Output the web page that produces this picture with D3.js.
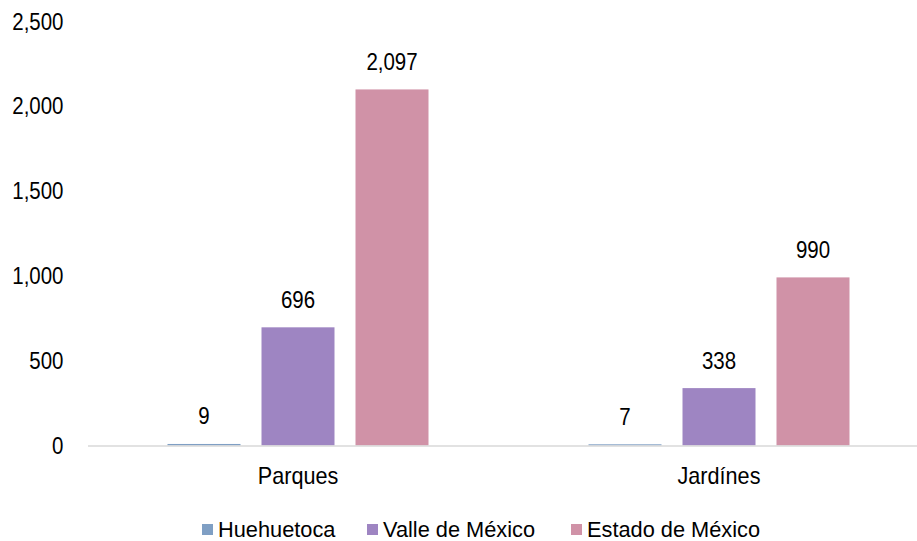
<!DOCTYPE html>
<html>
<head>
<meta charset="utf-8">
<script src="https://cdn.jsdelivr.net/npm/d3@7"></script>
<style>
  html, body { margin: 0; padding: 0; background: #fff; }
  svg text { font-family: "Liberation Sans", Arial, sans-serif; fill: #000; }
</style>
</head>
<body>
<svg id="chart" width="917" height="541"></svg>
<script>
// Áreas verdes: parques y jardines
const categories = ["Parques", "Jardínes"];
const seriesNames = ["Huehuetoca", "Valle de México", "Estado de México"];
const huehuetoca = [9, 7];
const valleDeMexico = [696, 338];
const estadoDeMexico = [2097, 990];
const yTicks = [0, 500, 1000, 1500, 2000, 2500];
const colors = ["#7f9fc4", "#9e85c2", "#d092a7"];

const seriesValues = [huehuetoca, valleDeMexico, estadoDeMexico];
const rows = categories.map((c, i) => ({
  category: c,
  values: seriesNames.map((s, j) => ({ series: s, value: seriesValues[j][i] }))
}));

const svg = d3.select("#chart");
const fmt = d3.format(",");
const NUM_SX = 0.89;   // slightly condensed numerals
const CAT_SX = 0.94;
const LEG_SX = 0.99;

const y = d3.scaleLinear().domain([0, 2500]).range([445.5, 21]);
const x0 = d3.scaleBand().domain(categories).range([87.5, 929.5]).padding(0);
const x1 = d3.scaleBand().domain(seriesNames)
  .range([80, 341]).paddingInner(21 / 94).paddingOuter(0);
const color = d3.scaleOrdinal().domain(seriesNames).range(colors);

// Y tick labels (no axis line, no gridlines)
const yAxis = d3.axisLeft(y).tickValues(yTicks).tickFormat(fmt).tickSize(0).tickPadding(0);
const gy = svg.append("g").attr("transform", "translate(63.5,0)").call(yAxis);
gy.select(".domain").remove();
gy.selectAll("text")
  .attr("font-size", 23)
  .attr("font-family", null)
  .attr("x", 0)
  .attr("dy", "0.35em")
  .attr("transform", `scale(${NUM_SX},1)`);

// Bars
const groups = svg.append("g").selectAll("g")
  .data(rows).join("g")
  .attr("transform", d => `translate(${x0(d.category)},0)`);

groups.selectAll("rect")
  .data(d => d.values).join("rect")
  .attr("x", d => x1(d.series))
  .attr("width", x1.bandwidth())
  .attr("y", d => y(d.value))
  .attr("height", d => y(0) - y(d.value))
  .attr("fill", d => color(d.series));

// Value labels
groups.selectAll("text.val")
  .data(d => d.values).join("text")
  .attr("class", "val")
  .attr("transform", d =>
    `translate(${x1(d.series) + x1.bandwidth() / 2},${y(d.value) - 19.5}) scale(${NUM_SX},1)`)
  .attr("text-anchor", "middle")
  .attr("font-size", 23)
  .text(d => fmt(d.value));

// Category axis
const xAxis = d3.axisBottom(x0).tickSize(0).tickPadding(0);
const gx = svg.append("g").attr("transform", `translate(0,${y(0)})`).call(xAxis);
gx.select(".domain").attr("stroke", "#d9d9d9").attr("stroke-width", 1.5);
gx.selectAll("text")
  .attr("font-size", 23)
  .attr("font-family", null)
  .attr("dy", null)
  .attr("y", 0)
  .attr("transform", `translate(0,38.5) scale(${CAT_SX},1)`);

// Legend
const legendItems = [
  { name: seriesNames[0], sx: 202, tx: 218 },
  { name: seriesNames[1], sx: 367, tx: 383 },
  { name: seriesNames[2], sx: 571, tx: 587 }
];
const legend = svg.append("g");
legend.selectAll("rect")
  .data(legendItems).join("rect")
  .attr("x", d => d.sx).attr("y", 524)
  .attr("width", 11).attr("height", 11)
  .attr("fill", d => color(d.name));
legend.selectAll("text")
  .data(legendItems).join("text")
  .attr("transform", d => `translate(${d.tx},536.5) scale(${LEG_SX},1)`)
  .attr("font-size", 22)
  .text(d => d.name);
</script>
</body>
</html>
